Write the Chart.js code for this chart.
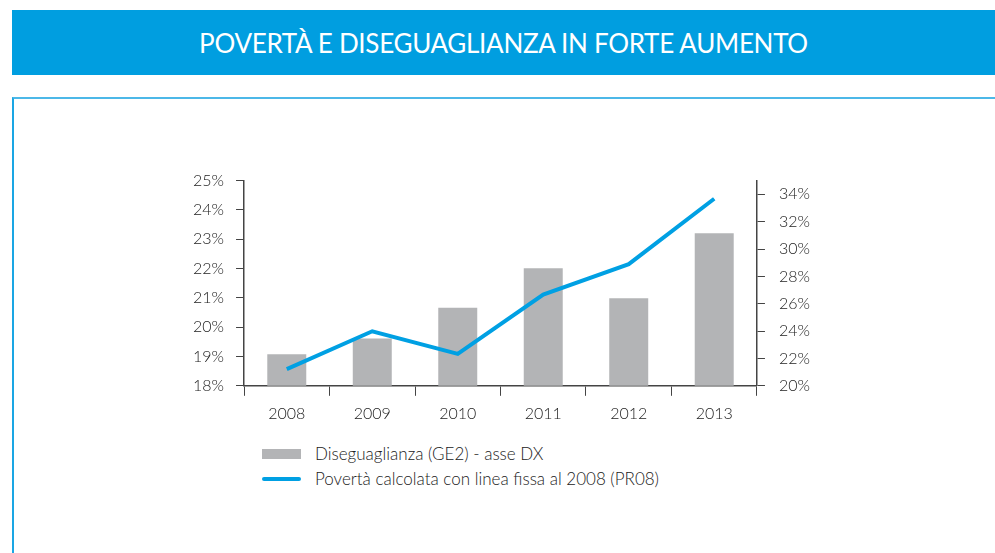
<!DOCTYPE html>
<html>
<head>
<meta charset="utf-8">
<script src="https://cdn.jsdelivr.net/npm/chart.js@4"></script>
<style>
    body { margin: 0; background: #fff; font-family: "Lato", sans-serif; }
    .banner {
        position: absolute; left: 12px; top: 10px; width: 983px; height: 65px;
        background: #009ee0; color: #fff; font-size: 26px; font-weight: 400;
        display: flex; align-items: center; justify-content: center; letter-spacing: -0.3px;
    }
    .box {
        position: absolute; left: 12px; top: 97px; width: 990px; height: 500px;
        border-top: 2px solid #4cb8e8; border-left: 2px solid #1aa6e4;
    }
    #wrap { position: absolute; left: 181px; top: 157px; width: 643px; height: 274px; }
    .legend { position: absolute; left: 262px; top: 441px; font-size: 17px; color: #222; font-weight: 300; }
    .legend div { display: flex; align-items: center; height: 25px; }
    .sw { width: 39px; margin-right: 14px; }
</style>
</head>
<body>
<div class="banner">POVERTÀ E DISEGUAGLIANZA IN FORTE AUMENTO</div>
<div class="box"></div>
<div id="wrap"><canvas id="chart"></canvas></div>
<div class="legend">
    <div><span class="sw" style="height:10px;background:#b3b4b6"></span>Diseguaglianza (GE2) - asse DX</div>
    <div><span class="sw" style="height:4px;background:#00a0e3;border-radius:2px"></span>Povertà calcolata con linea fissa al 2008 (PR08)</div>
</div>
<script>
const years = ["2008", "2009", "2010", "2011", "2012", "2013"];
const inequality = [22.3, 23.45, 25.7, 28.6, 26.4, 31.15];   // right axis
const poverty = [18.57, 19.86, 19.09, 21.11, 22.15, 24.38];   // left axis
const leftTicks = [18, 19, 20, 21, 22, 23, 24, 25];
const rightTicks = [20, 22, 24, 26, 28, 30, 32, 34];

const axisColor = "#444";
const tickFont = { family: "Lato", size: 16, weight: "300" };

new Chart(document.getElementById("chart"), {
    type: "bar",
    data: {
        labels: years,
        datasets: [
            {
                type: "line",
                label: "Povertà calcolata con linea fissa al 2008 (PR08)",
                data: poverty,
                yAxisID: "yL",
                borderColor: "#00a0e3",
                borderWidth: 4,
                pointRadius: 0,
                tension: 0,
                order: 0
            },
            {
                label: "Diseguaglianza (GE2) - asse DX",
                data: inequality,
                yAxisID: "yR",
                backgroundColor: "#b3b4b6",
                categoryPercentage: 1,
                barPercentage: 0.456,
                order: 1
            }
        ]
    },
    options: {
        responsive: true,
        maintainAspectRatio: false,
        animation: false,
        layout: { padding: { top: 14, bottom: 0, left: 0, right: 0 } },
        plugins: { legend: { display: false }, tooltip: { enabled: false } },
        scales: {
            x: {
                grid: { display: true, drawOnChartArea: false, offset: true, color: axisColor, tickLength: 10 },
                border: { color: axisColor, width: 1.5 },
                ticks: { color: "#222", font: tickFont, padding: 8 }
            },
            yL: {
                position: "left",
                min: 18, max: 25,
                afterBuildTicks: s => { s.ticks = leftTicks.map(v => ({ value: v })); },
                grid: { drawOnChartArea: false, color: axisColor, tickLength: 8 },
                border: { color: axisColor, width: 1.5 },
                ticks: { color: "#222", font: tickFont, padding: 12, callback: v => v + "%" }
            },
            yR: {
                position: "right",
                min: 20, max: 35,
                afterBuildTicks: s => { s.ticks = rightTicks.map(v => ({ value: v })); },
                grid: { drawOnChartArea: false, color: axisColor, tickLength: 8 },
                border: { color: axisColor, width: 1.5 },
                ticks: { color: "#222", font: tickFont, padding: 14, callback: v => v + "%" }
            }
        }
    }
});
</script>
</body>
</html>
